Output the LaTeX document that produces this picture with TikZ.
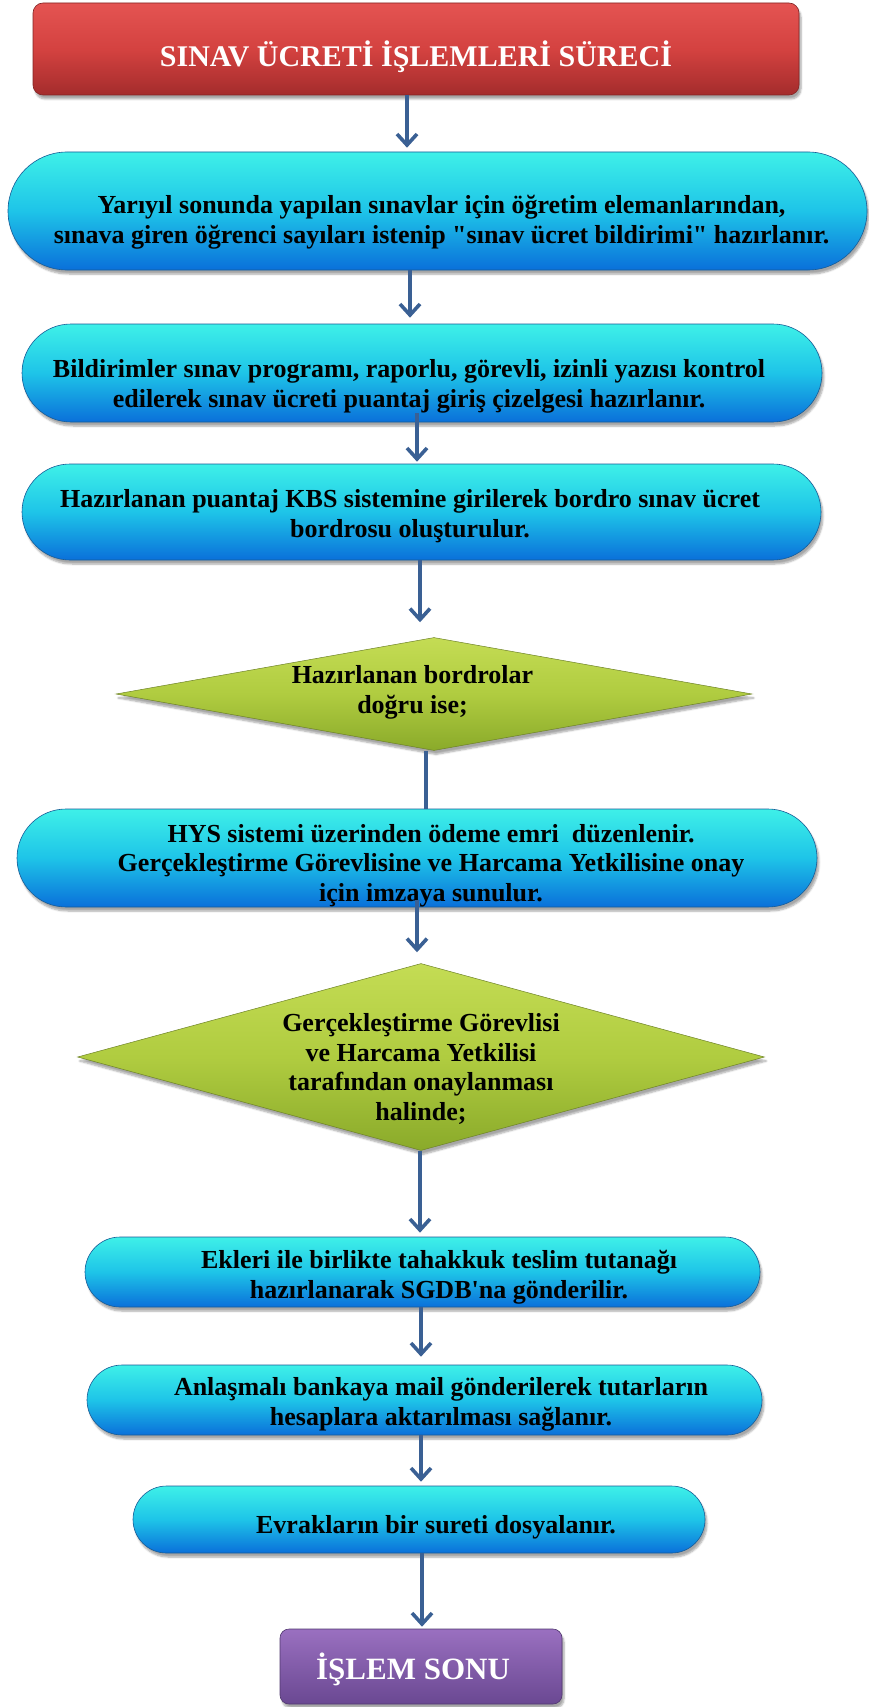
\documentclass[tikz,border=0pt]{standalone}
\usepackage{fontspec}
\setmainfont{Liberation Serif}
\usetikzlibrary{arrows.meta,shapes.geometric,shadows.blur}

\definecolor{cyantop}{RGB}{62,240,232}
\definecolor{cyanmid}{RGB}{30,196,232}
\definecolor{cyanbot}{RGB}{10,112,218}
\definecolor{cyanedge}{RGB}{24,92,150}
\definecolor{redtop}{RGB}{228,84,82}
\definecolor{redmid}{RGB}{212,66,64}
\definecolor{redbot}{RGB}{164,44,44}
\definecolor{rededge}{RGB}{130,36,36}
\definecolor{greentop}{RGB}{196,220,84}
\definecolor{greenmid}{RGB}{176,204,64}
\definecolor{greenbot}{RGB}{138,170,42}
\definecolor{greenedge}{RGB}{110,130,40}
\definecolor{purpletop}{RGB}{154,112,192}
\definecolor{purplebot}{RGB}{106,72,146}
\definecolor{purpleedge}{RGB}{80,56,110}
\definecolor{arrowblue}{RGB}{58,96,148}

\begin{document}
\begin{tikzpicture}[x=1pt,y=-1pt,
  softshadow/.style={blur shadow={shadow xshift=2pt,shadow yshift=-4pt,
      shadow blur steps=6,shadow opacity=35}},
  pill/.style n args={3}{draw=cyanedge,line width=0.6pt,
      top color=cyantop,bottom color=cyanbot,middle color=cyanmid,
      softshadow,inner sep=0pt,
      minimum width=#1pt,minimum height=#2pt,rounded corners=#3pt},
  titlebox/.style={draw=rededge,line width=0.6pt,
      top color=redtop,bottom color=redbot,middle color=redmid,
      softshadow,inner sep=0pt,rounded corners=10pt},
  endbox/.style={draw=purpleedge,line width=0.6pt,
      top color=purpletop,bottom color=purplebot,
      softshadow,inner sep=0pt,rounded corners=9pt},
  decision/.style={shape=diamond,draw=greenedge,line width=0.5pt,
      top color=greentop,bottom color=greenbot,middle color=greenmid,
      softshadow,inner sep=0pt},
  % multi-line labels are placed by the baseline of their last line
  txt/.style={font=\bfseries\fontsize{26}{29.5}\selectfont,
      align=center,anchor=base,inner sep=0pt},
  arr/.style={draw=arrowblue,line width=3.6pt,
      -{Straight Barb[length=11pt,width=20pt]}},
  link/.style={draw=arrowblue,line width=3.6pt}
]
\useasboundingbox (0,0) rectangle (869,1707);

% process shapes
\node[titlebox,minimum width=766pt,minimum height=92pt] (title) at (416,49) {};
\node[pill={859}{118}{59}] (b1) at (437.5,211) {};
\node[pill={800}{98}{49}] (b2) at (422,373) {};
\node[pill={799}{96}{48}] (b3) at (421.5,512) {};
\node[decision,minimum width=636pt,minimum height=113pt] (d1) at (434,694) {};
\node[pill={800}{98}{49}] (b4) at (417,858) {};
\node[decision,minimum width=687pt,minimum height=187pt] (d2) at (421,1057) {};
\node[pill={675}{70}{35}] (b5) at (422.5,1272) {};
\node[pill={675}{70}{35}] (b6) at (424.5,1400) {};
\node[pill={572}{67}{33.5}] (b7) at (419,1519.5) {};
\node[endbox,minimum width=282pt,minimum height=75pt] (end) at (421,1666.5) {};

% labels
\node[txt,text=white,font=\bfseries\fontsize{30}{34}\selectfont] (t0) at (416,67)
  {SINAV ÜCRETİ İŞLEMLERİ SÜRECİ};
\node[txt] (t1) at (441.5,243)
  {Yarıyıl sonunda yapılan sınavlar için öğretim elemanlarından,\\
   sınava giren öğrenci sayıları istenip \textquotedbl sınav ücret bildirimi\textquotedbl{} hazırlanır.};
\node[txt] (t2) at (409,407)
  {Bildirimler sınav programı, raporlu, görevli, izinli yazısı kontrol\\
   edilerek sınav ücreti puantaj giriş çizelgesi hazırlanır.};
\node[txt] (t3) at (410,537)
  {Hazırlanan puantaj KBS sistemine girilerek bordro sınav ücret\\
   bordrosu oluşturulur.};
\node[txt] (t4) at (412.5,713)
  {Hazırlanan bordrolar\\ doğru ise;};
\node[txt] (t5) at (431,901)
  {HYS sistemi üzerinden ödeme emri\ \ düzenlenir.\\
   Gerçekleştirme Görevlisine ve Harcama Yetkilisine onay\\
   için imzaya sunulur.};
\node[txt] (t6) at (421,1120)
  {Gerçekleştirme Görevlisi\\ ve Harcama Yetkilisi\\
   tarafından onaylanması\\ halinde;};
\node[txt] (t7) at (439,1298)
  {Ekleri ile birlikte tahakkuk teslim tutanağı\\
   hazırlanarak SGDB\textquotesingle na gönderilir.};
\node[txt] (t8) at (441,1425)
  {Anlaşmalı bankaya mail gönderilerek tutarların\\
   hesaplara aktarılması sağlanır.};
\node[txt] (t9) at (436,1533)
  {Evrakların bir sureti dosyalanır.};
\node[txt,text=white,font=\bfseries\fontsize{31}{36}\selectfont] (t10) at (413,1679)
  {İŞLEM SONU};

% connectors
\draw[arr,shorten >=4pt] ([xshift=-9pt]title.south) -- ([xshift=-9pt]title.south |- b1.north);
\draw[arr,shorten >=6pt] ([xshift=-27.5pt]b1.south) -- ([xshift=-27.5pt]b1.south |- b2.north);
\draw[arr,shorten <=-9pt,shorten >=2pt] ([xshift=-5pt]b2.south) -- ([xshift=-5pt]b2.south |- b3.north);
\draw[arr,shorten >=15pt] ([xshift=-1.5pt]b3.south) -- ([xshift=-1.5pt]b3.south |- d1.north);
\draw[link] ([xshift=-8pt]d1.south) -- ([xshift=-8pt]d1.south |- b4.north);
\draw[arr,shorten <=-7pt,shorten >=11pt] (b4.south) -- (b4.south |- d2.north);
\draw[arr,shorten >=4pt] ([xshift=-1pt]d2.south) -- ([xshift=-1pt]d2.south |- b5.north);
\draw[arr,shorten >=8pt] ([xshift=-1.5pt]b5.south) -- ([xshift=-1.5pt]b5.south |- b6.north);
\draw[arr,shorten >=4pt] ([xshift=-3.5pt]b6.south) -- ([xshift=-3.5pt]b6.south |- b7.north);
\draw[arr,shorten >=2pt] ([xshift=3pt]b7.south) -- ([xshift=3pt]b7.south |- end.north);
\end{tikzpicture}
\end{document}
